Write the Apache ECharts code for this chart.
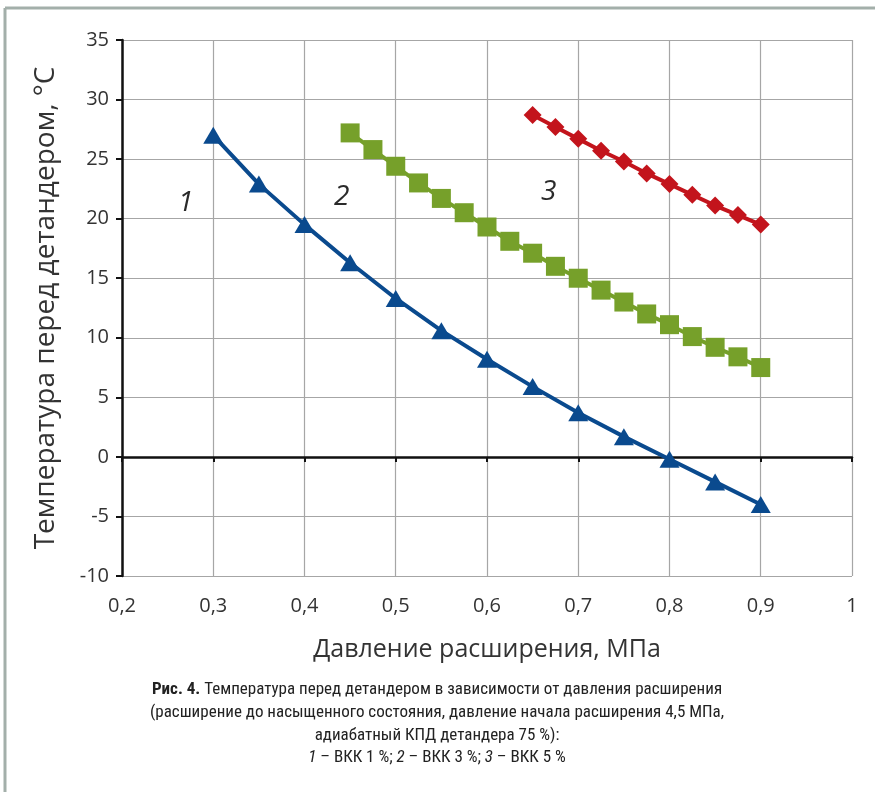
<!DOCTYPE html>
<html><head><meta charset="utf-8">
<script src="https://cdn.jsdelivr.net/npm/echarts@6/dist/echarts.min.js"></script>
<style>html,body{margin:0;padding:0;background:#fff}#c{width:875px;height:792px}</style>
</head><body><div id="c"></div>
<script>
const pressure1 = [0.3,0.35,0.4,0.45,0.5,0.55,0.6,0.65,0.7,0.75,0.8,0.85,0.9];
const temp1 = [27.0,22.9,19.5,16.3,13.3,10.6,8.2,5.9,3.7,1.7,-0.2,-2.1,-4.0];
const pressure2 = [0.45,0.475,0.5,0.525,0.55,0.575,0.6,0.625,0.65,0.675,0.7,0.725,0.75,0.775,0.8,0.825,0.85,0.875,0.9];
const temp2 = [27.2,25.8,24.4,23.0,21.7,20.5,19.3,18.1,17.1,16.0,15.0,14.0,13.0,12.0,11.1,10.1,9.2,8.4,7.5];
const pressure3 = [0.65,0.675,0.7,0.725,0.75,0.775,0.8,0.825,0.85,0.875,0.9];
const temp3 = [28.7,27.7,26.7,25.7,24.8,23.8,22.9,22.0,21.1,20.3,19.5];
const xMin = 0.2, xMax = 1, xStep = 0.1;
const yMin = -10, yMax = 35, yStep = 5;
const xTitle = 'Давление расширения, МПа';
const yTitle = 'Температура перед детандером, °C';
const curveLabels = ['1','2','3'];
const captionLines = [
  ['Рис. 4.', ' Температура перед детандером в зависимости от давления расширения'],
  ['(расширение до насыщенного состояния, давление начала расширения 4,5 МПа,'],
  ['адиабатный КПД детандера 75 %):']
];

const pair = (xs, ys) => xs.map((x, i) => [x, ys[i]]);
const fmtX = v => String(+(+v).toFixed(1)).replace('.', ',');
const axisFont = '"Open Sans", Lato, sans-serif';
const capFont = '"Liberation Sans Narrow", "Roboto Condensed", Roboto, sans-serif';

const chart = echarts.init(document.getElementById('c'));
chart.setOption({
  animation: false,
  grid: {left: 122, right: 23, top: 40, bottom: 216, containLabel: false},
  xAxis: [
    {type: 'value', min: xMin, max: xMax, interval: xStep,
     axisLine: {show: true, onZero: true, lineStyle: {color: '#111', width: 2.5}},
     axisTick: {show: true, length: 5, lineStyle: {color: '#111', width: 2}},
     axisLabel: {show: false},
     splitLine: {show: true, lineStyle: {color: '#a6a6a6', width: 1.2}}},
    {type: 'value', min: xMin, max: xMax, interval: xStep, position: 'bottom',
     axisLine: {show: false, onZero: false}, axisTick: {show: false},
     splitLine: {show: false},
     axisLabel: {show: true, margin: 20, formatter: fmtX, color: '#333', fontSize: 20, fontFamily: axisFont},
     name: xTitle, nameLocation: 'middle', nameGap: 61,
     nameTextStyle: {fontSize: 25, color: '#333', fontFamily: axisFont}}
  ],
  yAxis: {type: 'value', min: yMin, max: yMax, interval: yStep,
    axisLine: {show: true, onZero: false, lineStyle: {color: '#111', width: 2.5}},
    axisTick: {show: true, length: 6, lineStyle: {color: '#111', width: 2}},
    axisLabel: {margin: 13, color: '#333', fontSize: 20, fontFamily: axisFont},
    splitLine: {show: true, lineStyle: {color: '#a6a6a6', width: 1.2}},
    name: yTitle, nameLocation: 'middle', nameGap: 62, nameRotate: 90,
    nameTextStyle: {fontSize: 28, color: '#333', fontFamily: axisFont}},
  series: [
    {type: 'line', data: pair(pressure1, temp1), xAxisIndex: 0, symbol: 'triangle', symbolSize: [20, 17],
     lineStyle: {color: '#0a4a8e', width: 4}, itemStyle: {color: '#0a4a8e'}, z: 3},
    {type: 'line', data: pair(pressure2, temp2), xAxisIndex: 0, symbol: 'rect', symbolSize: 19,
     lineStyle: {color: '#76a02a', width: 4}, itemStyle: {color: '#76a02a'}, z: 3},
    {type: 'line', data: pair(pressure3, temp3), xAxisIndex: 0, symbol: 'diamond', symbolSize: 18,
     lineStyle: {color: '#c3141c', width: 4}, itemStyle: {color: '#c3141c'}, z: 3}
  ],
  graphic: [
    {type: 'line', shape: {x1: 5, y1: 8, x2: 875, y2: 8}, style: {stroke: '#a3afaa', lineWidth: 3}},
    {type: 'line', shape: {x1: 5, y1: 8, x2: 5, y2: 792}, style: {stroke: '#a3afaa', lineWidth: 3}},
    {type: 'text', left: 178, top: 189, style: {text: curveLabels[0], font: 'italic 28px "Open Sans", sans-serif', fill: '#2a2a2a'}},
    {type: 'text', left: 334, top: 183, style: {text: curveLabels[1], font: 'italic 28px "Open Sans", sans-serif', fill: '#2a2a2a'}},
    {type: 'text', left: 541, top: 178, style: {text: curveLabels[2], font: 'italic 28px "Open Sans", sans-serif', fill: '#2a2a2a'}},
    {type: 'text', x: 437, y: 690, style: {
      text: '{b|' + captionLines[0][0] + '}{n|' + captionLines[0][1] + '}',
      align: 'center', verticalAlign: 'middle',
      rich: {b: {font: 'bold 17px ' + capFont, fill: '#222'}, n: {font: '17px ' + capFont, fill: '#222'}}}},
    {type: 'text', x: 437, y: 713, style: {text: captionLines[1][0], align: 'center', verticalAlign: 'middle', font: '17px ' + capFont, fill: '#222'}},
    {type: 'text', x: 437, y: 736, style: {text: captionLines[2][0], align: 'center', verticalAlign: 'middle', font: '17px ' + capFont, fill: '#222'}},
    {type: 'text', x: 437, y: 758, style: {
      text: '{i|1}{n| – ВКК 1 %; }{i|2}{n| – ВКК 3 %; }{i|3}{n| – ВКК 5 %}',
      align: 'center', verticalAlign: 'middle',
      rich: {i: {font: 'italic 17px ' + capFont, fill: '#222'}, n: {font: '17px ' + capFont, fill: '#222'}}}}
  ]
});
</script></body></html>
